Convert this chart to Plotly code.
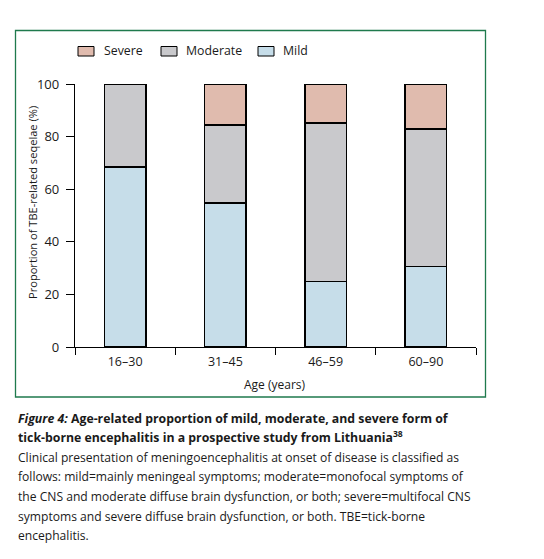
import plotly.graph_objects as go

# ---- data ----
age_groups = ["16–30", "31–45", "46–59", "60–90"]
mild = [68.4, 54.7, 25.0, 30.6]
moderate = [31.6, 29.7, 60.1, 52.3]
severe = [0.0, 15.6, 14.9, 17.1]
y_ticks = [0, 20, 40, 60, 80, 100]

series_names = ["Mild", "Moderate", "Severe"]
series_colors = ["#c6dde9", "#c9c9cc", "#e0bbae"]
legend_order = ["Severe", "Moderate", "Mild"]

caption_head = [
    "<b><i>Figure 4:</i> Age-related proportion of mild, moderate, and severe form of</b>",
    "<b>tick-borne encephalitis in a prospective study from Lithuania<sup>38</sup></b>",
]
caption_body = [
    "Clinical presentation of meningoencephalitis at onset of disease is classified as",
    "follows: mild=mainly meningeal symptoms; moderate=monofocal symptoms of",
    "the CNS and moderate diffuse brain dysfunction, or both; severe=multifocal CNS",
    "symptoms and severe diffuse brain dysfunction, or both. TBE=tick-borne",
    "encephalitis.",
]

# ---- layout geometry (page pixels; page body has an 8px margin) ----
OFF = 8
W, H = 544 - 2 * OFF, 559 - 2 * OFF
PLOT_L, PLOT_R, PLOT_T, PLOT_B = 75, 476, 84, 347   # page pixels
ML, MT = PLOT_L - OFF, PLOT_T - OFF
MR, MB = W - (PLOT_R - OFF), H - (PLOT_B - OFF)
PW, PH = PLOT_R - PLOT_L, PLOT_B - PLOT_T
FONT = "Open Sans, Liberation Sans, Arial, sans-serif"
TXT = "#1a1a1a"


def px_x(px):
    return (px - PLOT_L) / PW


def px_y(py):
    return (PLOT_B - py) / PH


fig = go.Figure()
for name, vals, col in zip(series_names, [mild, moderate, severe], series_colors):
    fig.add_trace(go.Bar(
        x=age_groups, y=vals, name=name,
        marker=dict(color=col, line=dict(color="black", width=1.4)),
        width=0.415, showlegend=False,
    ))

annotations = []
shapes = []

# caption
for txt, yy in zip(caption_head, [418, 436.5]):
    annotations.append(dict(text=txt, x=px_x(16), y=px_y(yy), xref="paper", yref="paper",
                            xanchor="left", yanchor="middle", showarrow=False,
                            font=dict(size=12.3, color=TXT, family=FONT)))
for txt, yy in zip(caption_body, [457, 476.5, 496.5, 516, 535]):
    annotations.append(dict(text=txt, x=px_x(16), y=px_y(yy), xref="paper", yref="paper",
                            xanchor="left", yanchor="middle", showarrow=False,
                            font=dict(size=12.1, color=TXT, family=FONT)))

# axis titles
annotations.append(dict(text="Age (years)", x=px_x(275), y=px_y(384), xref="paper", yref="paper",
                        xanchor="center", yanchor="middle", showarrow=False,
                        font=dict(size=12, color=TXT, family=FONT)))
annotations.append(dict(text="Proportion of TBE-related seqelae (%)", x=px_x(32), y=px_y(203),
                        xref="paper", yref="paper", xanchor="center", yanchor="middle",
                        textangle=-90, showarrow=False,
                        font=dict(size=11.1, color=TXT, family=FONT)))

# legend (swatch + label per series)
legend_swatch_x = [78, 161, 258]
legend_text_x = [102, 184, 281]
color_of = dict(zip(series_names, series_colors))
for name, sx, tx in zip(legend_order, legend_swatch_x, legend_text_x):
    shapes.append(dict(type="rect", xref="paper", yref="paper",
                       x0=px_x(sx), x1=px_x(sx + 16), y0=px_y(56), y1=px_y(46.5),
                       fillcolor=color_of[name], line=dict(color="black", width=1)))
    annotations.append(dict(text=name, x=px_x(tx), y=px_y(51), xref="paper", yref="paper",
                            xanchor="left", yanchor="middle", showarrow=False,
                            font=dict(size=12.3, color=TXT, family=FONT)))

# green frame
shapes.append(dict(type="rect", xref="paper", yref="paper",
                   x0=px_x(15.5), x1=px_x(485.5), y0=px_y(397), y1=px_y(30.5),
                   line=dict(color="#1f7a4d", width=1.3), fillcolor="rgba(0,0,0,0)",
                   layer="below"))

fig.update_layout(
    width=W, height=H,
    margin=dict(l=ML, r=MR, t=MT, b=MB),
    barmode="stack",
    paper_bgcolor="white", plot_bgcolor="white",
    font=dict(family=FONT, size=12, color=TXT),
    showlegend=False,
    xaxis=dict(type="category", tickson="boundaries", ticks="outside", ticklen=7,
               tickwidth=1.3, tickcolor="black", showline=True, linecolor="black",
               linewidth=1.3, range=[-0.5, 3.5], showgrid=False, zeroline=False,
               ticklabelstandoff=3,
               tickfont=dict(size=12.5, family=FONT, color=TXT)),
    yaxis=dict(range=[0, 100], tickvals=y_ticks, ticks="outside", ticklen=8,
               tickwidth=1.3, tickcolor="black", showline=True, linecolor="black",
               linewidth=1.3, showgrid=False, zeroline=False,
               ticklabelstandoff=4,
               tickfont=dict(size=13, family=FONT, color=TXT)),
    annotations=annotations,
    shapes=shapes,
)

fig.write_html("out.html")
